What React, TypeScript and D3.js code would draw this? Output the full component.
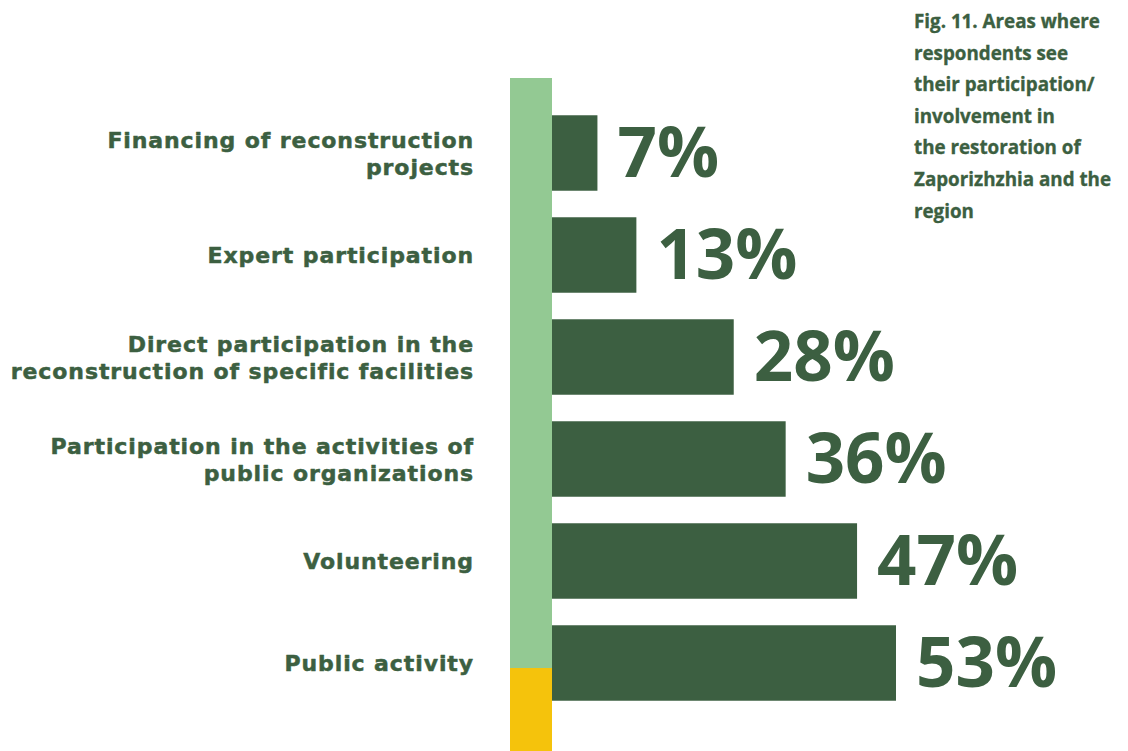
import React from "react";
import * as d3 from "d3";

const categories: string[][] = [
  ["Financing of reconstruction", "projects"],
  ["Expert participation"],
  ["Direct participation in the", "reconstruction of specific facilities"],
  ["Participation in the activities of", "public organizations"],
  ["Volunteering"],
  ["Public activity"],
];
const values: number[] = [7, 13, 28, 36, 47, 53];
const titleLines: string[] = [
  "Fig. 11. Areas where",
  "respondents see",
  "their participation/",
  "involvement in",
  "the restoration of",
  "Zaporizhzhia and the",
  "region",
];

const W = 1128;
const H = 751;
const DARK = "#3c5f41";
const LIGHT = "#93c993";
const YELLOW = "#f5c30c";

export default function App() {
  const keys = categories.map((_, i) => String(i));
  const y = d3.scaleBand<string>().domain(keys).range([102, 714]).paddingInner(0.26).paddingOuter(0.13);
  const x = d3.scaleLinear().domain([0, 53]).range([552, 896]);
  const bw = y.bandwidth();

  return (
    <svg width={W} height={H} style={{ position: "absolute", left: 0, top: 0, background: "#fff" }}>
      <rect x={510} y={78} width={42} height={590} fill={LIGHT} />
      <rect x={510} y={668} width={42} height={H - 668} fill={YELLOW} />
      {values.map((v, i) => {
        const yy = y(String(i))!;
        const cy = yy + bw / 2;
        const lines = categories[i];
        const lh = 27;
        const start = cy - ((lines.length - 1) * lh) / 2 + 8;
        return (
          <g key={i}>
            <rect x={x(0)} y={yy} width={x(v) - x(0)} height={bw} fill={DARK} />
            <text
              x={x(v) + 20}
              y={cy + 24}
              fill={DARK}
              fontFamily="'Open Sans', sans-serif"
              fontWeight={700}
              fontSize={69}
            >
              {v}%
            </text>
            {lines.map((l, j) => (
              <text
                key={j}
                x={474}
                y={start + j * lh}
                textAnchor="end"
                fill={DARK}
                stroke={DARK}
                strokeWidth={0.5}
                strokeLinejoin="round"
                letterSpacing={0.9}
                fontFamily="'DejaVu Sans', sans-serif"
                fontWeight={700}
                fontSize={22}
              >
                {l}
              </text>
            ))}
          </g>
        );
      })}
      {titleLines.map((t, i) => (
        <text
          key={i}
          x={914}
          y={28 + i * 31.6}
          fill={DARK}
          stroke={DARK}
          strokeWidth={0.35}
          fontFamily="'Open Sans', sans-serif"
          fontWeight={700}
          fontSize={18.8}
        >
          {t}
        </text>
      ))}
    </svg>
  );
}
